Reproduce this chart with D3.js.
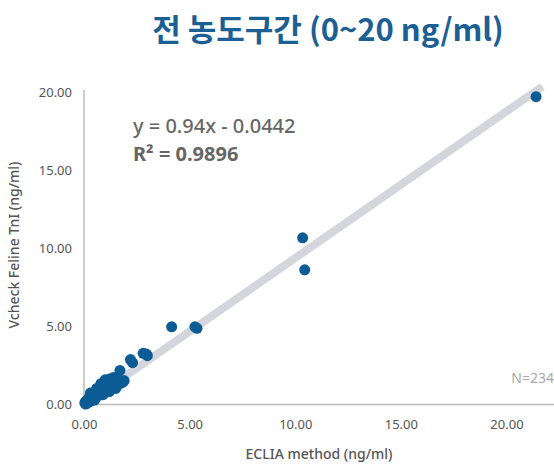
<!DOCTYPE html>
<html>
<head>
<meta charset="utf-8">
<script src="https://cdn.jsdelivr.net/npm/d3@7"></script>
<style>
  body { margin: 0; background: #fff; }
  svg { display: block; font-family: "Noto Sans", "Noto Sans CJK KR", sans-serif; }
</style>
</head>
<body>
<svg id="chart"></svg>
<script>
// ECLIA method (x) vs Vcheck Feline TnI (y), ng/ml
const eclia = [
  21.4, 10.35, 10.45, 4.15, 5.25, 5.35, 2.8, 3.0, 2.95, 2.2, 2.3, 1.7, 1.85, 1.9,
  0.05, 0.08, 0.1, 0.12, 0.15, 0.18, 0.2, 0.22, 0.25, 0.28, 0.3, 0.33, 0.35, 0.38,
  0.4, 0.42, 0.45, 0.48, 0.5, 0.52, 0.55, 0.6, 0.62, 0.65, 0.7, 0.72, 0.75, 0.8,
  0.85, 0.9, 0.95, 1.0, 1.05, 1.1, 1.15, 1.2, 1.25, 1.3, 1.35, 1.4, 1.45, 1.5,
  1.55, 1.6, 0.1, 0.2, 0.3, 0.45, 0.6, 0.75, 0.9, 1.05, 1.2, 1.35, 1.5, 0.15,
  0.35, 0.55, 0.8, 1.0, 1.25, 1.45, 0.05, 0.25, 0.4, 0.7,
  0.3, 0.6, 0.8, 1.0, 1.2, 1.4, 1.5, 1.7, 1.2, 0.9, 0.5, 1.65
];
const vcheck = [
  19.7, 10.65, 8.6, 4.95, 4.95, 4.85, 3.25, 3.1, 3.2, 2.85, 2.65, 2.15, 1.4, 1.5,
  0.05, 0.0, 0.15, 0.1, 0.2, 0.1, 0.25, 0.3, 0.2, 0.35, 0.3, 0.4, 0.3, 0.45,
  0.5, 0.4, 0.55, 0.45, 0.6, 0.5, 0.65, 0.7, 0.55, 0.75, 0.85, 0.65, 0.9, 0.8,
  1.05, 0.9, 1.1, 1.2, 0.95, 1.3, 1.1, 1.35, 1.2, 1.45, 1.3, 1.5, 1.35, 1.55,
  1.4, 1.45, 0.2, 0.35, 0.45, 0.65, 0.8, 1.0, 1.15, 1.3, 1.0, 1.2, 1.35, 0.05,
  0.2, 0.4, 0.6, 0.8, 1.0, 1.2, 0.1, 0.15, 0.3, 0.55,
  0.7, 1.0, 1.3, 1.55, 1.6, 1.7, 1.0, 1.3, 0.8, 0.6, 0.25, 1.55
];
const xTicks = [0, 5, 10, 15, 20];
const yTicks = [0, 5, 10, 15, 20];
const fitSlope = 0.94;
const fitIntercept = -0.0442;
const fitRange = [0, 21.7];

const W = 554, H = 466;
const svg = d3.select("#chart").attr("width", W).attr("height", H);

const x = d3.scaleLinear().domain([0, 22.25]).range([84, 554]);
const y = d3.scaleLinear().domain([0, 20]).range([404, 92]);

// axes (lines only, no tick marks)
const xAxis = d3.axisBottom(x).tickValues(xTicks).tickFormat(d3.format(".2f")).tickSize(0).tickPadding(16);
const yAxis = d3.axisLeft(y).tickValues(yTicks).tickFormat(d3.format(".2f")).tickSize(0).tickPadding(12);

const gx = svg.append("g").attr("transform", `translate(0, ${y(0)})`).call(xAxis);
const gy = svg.append("g").attr("transform", `translate(${x(0)}, 0)`).call(yAxis);

[gx, gy].forEach(g => {
  g.select(".domain").attr("stroke", "#bdbdbd").attr("stroke-width", 1.5);
  g.selectAll("text").attr("fill", "#555").style("font-size", "13px").style("font-family", "'Noto Sans', sans-serif");
});
gy.select(".domain").attr("d", `M0,${y(20) - 2}V${y(0)}`);

// regression line
svg.append("line")
  .attr("x1", x(fitRange[0])).attr("y1", y(fitSlope * fitRange[0] + fitIntercept))
  .attr("x2", x(fitRange[1])).attr("y2", y(fitSlope * fitRange[1] + fitIntercept))
  .attr("stroke", "#d5d5de").attr("stroke-width", 8).attr("stroke-linecap", "butt");

// points
svg.append("g").selectAll("circle")
  .data(eclia.map((v, i) => [v, vcheck[i]]))
  .join("circle")
  .attr("cx", d => x(d[0]))
  .attr("cy", d => y(d[1]))
  .attr("r", 5.5)
  .attr("fill", "#0b5c95");

// title
svg.append("text")
  .attr("x", 328).attr("y", 41)
  .attr("text-anchor", "middle")
  .style("font-family", "'Noto Sans CJK KR', 'Noto Sans', sans-serif")
  .style("font-size", "31px").style("font-weight", "700")
  .attr("fill", "#1b5f94")
  .text("전 농도구간 (0~20 ng/ml)");

// equation
svg.append("text")
  .attr("x", 133).attr("y", 133)
  .style("font-size", "20px").style("font-weight", "500")
  .attr("fill", "#666")
  .text("y = 0.94x - 0.0442");
svg.append("text")
  .attr("x", 133).attr("y", 161)
  .style("font-size", "20px").style("font-weight", "700")
  .attr("fill", "#666")
  .text("R² = 0.9896");

// N label
svg.append("text")
  .attr("x", 554).attr("y", 383)
  .attr("text-anchor", "end")
  .style("font-size", "14px")
  .attr("fill", "#aaa")
  .text("N=234");

// axis titles
svg.append("text")
  .attr("x", 319).attr("y", 459)
  .attr("text-anchor", "middle")
  .style("font-size", "14px").style("font-weight", "500")
  .attr("fill", "#555")
  .text("ECLIA method (ng/ml)");
svg.append("text")
  .attr("transform", "translate(19, 245) rotate(-90)")
  .attr("text-anchor", "middle")
  .style("font-size", "14px").style("font-weight", "500")
  .attr("fill", "#555")
  .text("Vcheck Feline TnI (ng/ml)");
</script>
</body>
</html>
